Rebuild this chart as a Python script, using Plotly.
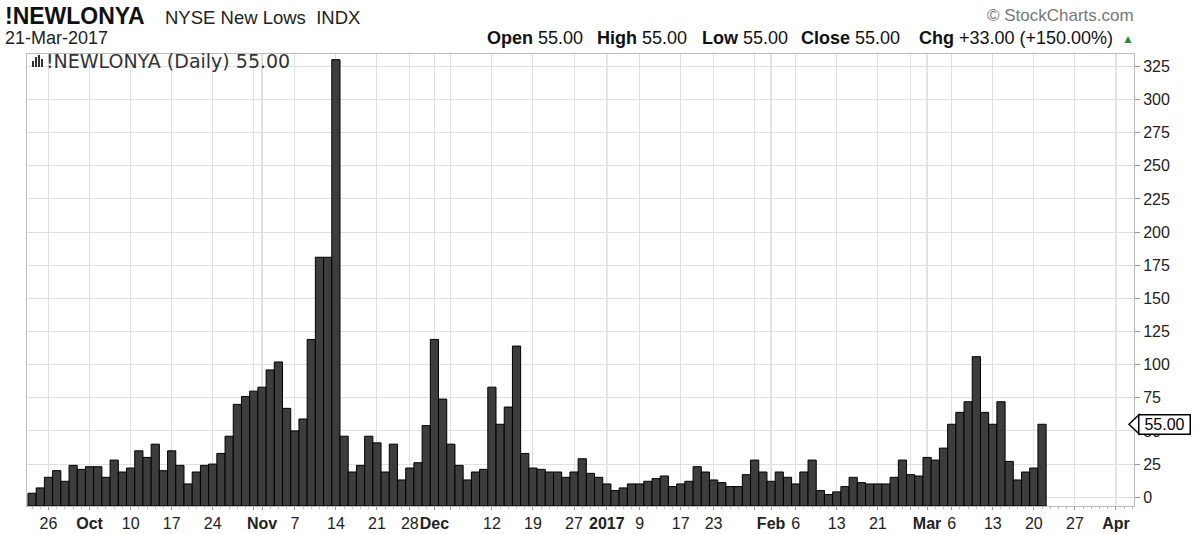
import plotly.graph_objects as go
import pandas as pd

# ---------------- data ----------------
symbol = "!NEWLONYA"
name = "NYSE New Lows  INDX"
as_of = "21-Mar-2017"

holidays = ["2016-11-24", "2016-12-26", "2017-01-02", "2017-01-16", "2017-02-20"]
sessions = pd.bdate_range("2016-09-22", "2017-04-07", freq="C", holidays=holidays)

values = [3, 7, 15, 20, 12, 24, 21, 23, 23, 15,
          28, 19, 22, 35, 30, 40, 20, 35, 24, 10,
          19, 24, 25, 33, 46, 70, 76, 80, 83, 96,
          102, 67, 50, 59, 119, 181, 181, 330, 46, 19,
          24, 46, 41, 19, 40, 13, 22, 26, 54, 119,
          74, 40, 24, 13, 19, 21, 83, 55, 68, 114,
          33, 22, 21, 19, 19, 15, 19, 29, 18, 15,
          10, 5, 7, 10, 10, 12, 14, 16, 8, 10,
          12, 23, 19, 13, 11, 8, 8, 17, 28, 19,
          12, 19, 15, 10, 19, 28, 5, 2, 4, 8,
          15, 11, 10, 10, 10, 15, 28, 17, 16, 30,
          28, 37, 55, 64, 72, 106, 64, 55, 72, 27,
          13, 19, 22, 55]

tick_dates = ["2016-09-26", "2016-10-03", "2016-10-10", "2016-10-17", "2016-10-24",
              "2016-10-31", "2016-11-01", "2016-11-07", "2016-11-14", "2016-11-21",
              "2016-11-28", "2016-12-01", "2016-12-05", "2016-12-12", "2016-12-19",
              "2016-12-27", "2017-01-03", "2017-01-09", "2017-01-17", "2017-01-23",
              "2017-01-30", "2017-02-01", "2017-02-06", "2017-02-13", "2017-02-21",
              "2017-02-27", "2017-03-01", "2017-03-06", "2017-03-13", "2017-03-20",
              "2017-03-27", "2017-04-03"]
tick_labels = ["26", "<b>Oct</b>", "10", "17", "24",
               "", "<b>Nov</b>", "7", "14", "21",
               "28", "<b>Dec</b>", "", "12", "19",
               "27", "<b>2017</b>", "9", "17", "23",
               "", "<b>Feb</b>", "6", "13", "21",
               "", "<b>Mar</b>", "6", "13", "20",
               "27", "<b>Apr</b>"]
month_dates = ["2016-10-03", "2016-11-01", "2016-12-01", "2017-01-03",
               "2017-02-01", "2017-03-01", "2017-04-03"]
y_ticks = list(range(0, 326, 25))

last_value = 55.00
change = "+33.00 (+150.00%)"

# ---------------- layout geometry ----------------
L, R, T, B = 27, 66, 54, 28
W = 1200 - L - R
H = 534 - T - B
XMIN, XMAX = -0.62, 134.2
YMIN, YMAX = -6.64, 334.3


def px(x):
    return (x - L) / W


def py(y):
    return 1 - (y - T) / H


def ypaper(v):
    return (v - YMIN) / (YMAX - YMIN)


date_index = {d.strftime("%Y-%m-%d"): i for i, d in enumerate(sessions)}
idx = list(range(len(values)))
tick_pos = [date_index[d] for d in tick_dates]
month_pos = [date_index[d] for d in month_dates]

FONT = "Liberation Sans, Arial, sans-serif"

fig = go.Figure()
fig.add_trace(go.Bar(
    x=idx,
    y=[v - YMIN for v in values],
    base=YMIN,
    width=1.0,
    marker=dict(color="#3d3d3d", line=dict(color="#000000", width=1)),
    hoverinfo="skip",
    showlegend=False,
))

shapes = []
for p in month_pos:
    shapes.append(dict(type="line", xref="x", yref="paper", x0=p, x1=p, y0=0, y1=1,
                       line=dict(color="#c4c4c4", width=1), layer="below"))

# price tag on right axis (arrow tip; the box itself is the annotation)
tip = 1129
bx0, bx1 = 1138, 1190
yc = ypaper(last_value)
hh = 9.5 / H
path = f"M {px(tip)} {yc} L {px(bx0 + 1)} {yc + hh} L {px(bx0 + 1)} {yc - hh} Z"
shapes.append(dict(type="path", xref="paper", yref="paper", path=path,
                   fillcolor="white", line=dict(color="#000000", width=1.5)))

# small bar icon
for x0, h in [(32, 6), (35, 10), (38, 12), (41, 8)]:
    shapes.append(dict(type="rect", xref="paper", yref="paper",
                       x0=px(x0), x1=px(x0 + 2), y0=py(67), y1=py(67 - h),
                       fillcolor="#333333", line=dict(width=0)))

ann = []
ann.append(dict(text=f"<b>{symbol}</b>", x=px(3), y=py(16), xanchor="left", yanchor="middle",
                font=dict(family=FONT, size=23, color="#111")))
ann.append(dict(text=name, x=px(163), y=py(17), xanchor="left", yanchor="middle",
                font=dict(family=FONT, size=18.5, color="#222")))
ann.append(dict(text=as_of, x=px(3), y=py(38), xanchor="left", yanchor="middle",
                font=dict(family=FONT, size=18, color="#222")))
ann.append(dict(text="© StockCharts.com", x=px(1136), y=py(16), xanchor="right", yanchor="middle",
                font=dict(family=FONT, size=17, color="#777")))
vtxt = f"{last_value:.2f}"
for lx, lab, val in [(485, "Open", vtxt), (595, "High", vtxt), (700, "Low", vtxt),
                     (799, "Close", vtxt), (917, "Chg", change)]:
    ann.append(dict(text=f"<b>{lab}</b> {val}", x=px(lx), y=py(38), xanchor="left", yanchor="middle",
                    font=dict(family=FONT, size=18, color="#111")))
ann.append(dict(text="▲", x=px(1128), y=py(39), xanchor="center", yanchor="middle",
                font=dict(family=FONT, size=12, color="#2e8b3e")))
ann.append(dict(text=f"{symbol} (Daily) {vtxt}", x=px(44), y=py(61), xanchor="left", yanchor="middle",
                font=dict(family="DejaVu Sans, sans-serif", size=19, color="#333")))
ann.append(dict(text=vtxt, x=px((bx0 + bx1) / 2), y=yc, xanchor="center", yanchor="middle",
                width=bx1 - bx0 - 4, height=16, bgcolor="white", bordercolor="#000000",
                borderwidth=1.5, borderpad=1,
                font=dict(family=FONT, size=16, color="#000")))
for a in ann:
    a.update(xref="paper", yref="paper", showarrow=False)

fig.update_layout(
    width=1200, height=534,
    margin=dict(l=L, r=R, t=T, b=B, pad=0),
    paper_bgcolor="white", plot_bgcolor="white",
    bargap=0,
    shapes=shapes,
    annotations=ann,
    xaxis=dict(
        range=[XMIN, XMAX], tickmode="array", tickvals=tick_pos, ticktext=tick_labels,
        tickangle=0,
        showgrid=True, gridcolor="#e0e0e0", gridwidth=1,
        ticks="outside", ticklen=3, tickcolor="#999",
        showline=True, linecolor="#bdbdbd", linewidth=1, mirror=True, zeroline=False,
        tickfont=dict(family=FONT, size=16, color="#222"),
        minor=dict(tickmode="linear", tick0=0, dtick=1, ticks="outside", ticklen=2,
                   tickcolor="#bbbbbb", showgrid=False),
        automargin=False,
        fixedrange=True,
    ),
    yaxis=dict(
        range=[YMIN, YMAX], side="right", tickmode="array", tickvals=y_ticks,
        showgrid=True, gridcolor="#e0e0e0", gridwidth=1,
        ticks="outside", ticklen=5, tickcolor="#999",
        showline=True, linecolor="#bdbdbd", linewidth=1, mirror=True, zeroline=False,
        tickfont=dict(family=FONT, size=16, color="#222"),
        automargin=False,
        fixedrange=True,
    ),
)

fig.write_html("out.html", config={"displayModeBar": False, "staticPlot": True},
               post_script="document.body.style.margin='0';document.body.style.padding='0';")
